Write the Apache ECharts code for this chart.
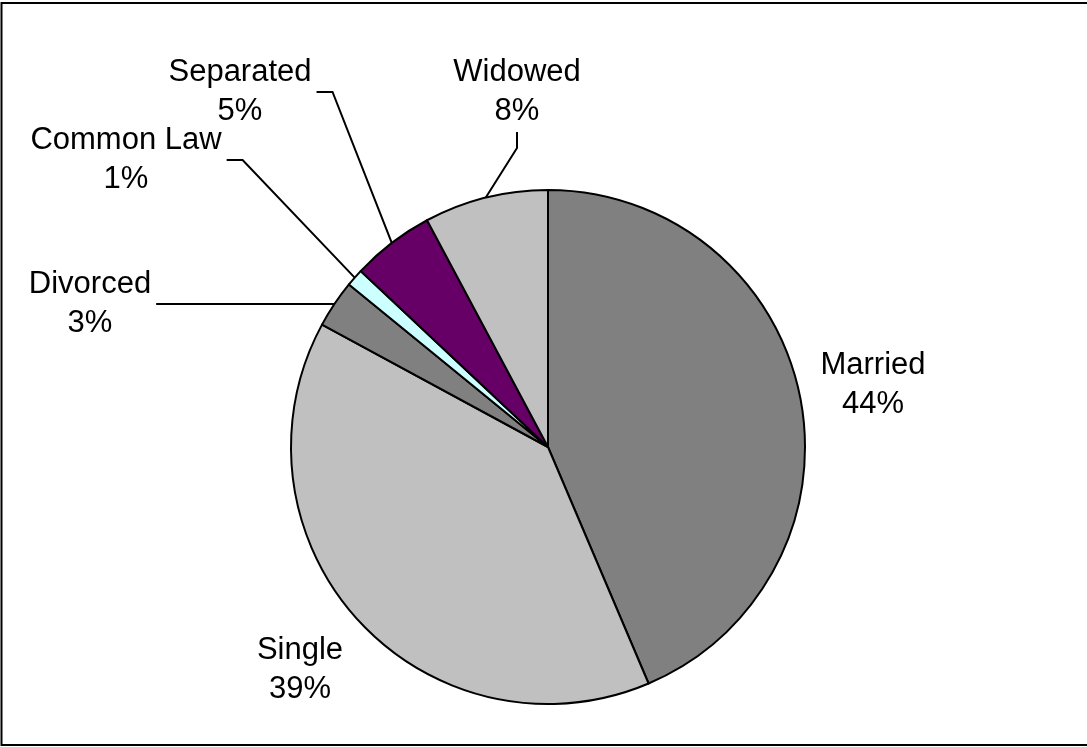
<!DOCTYPE html>
<html>
<head>
<meta charset="utf-8">
<script src="https://cdn.jsdelivr.net/npm/echarts@6/dist/echarts.min.js"></script>
<style>
  html, body { margin: 0; padding: 0; background: #fff; }
  #chart { width: 1087px; height: 747px; }
</style>
</head>
<body>
<div id="chart"></div>
<script>
// marital status shares (percent), clockwise from 12 o'clock
var categories = ['Married', 'Single', 'Divorced', 'Common Law', 'Separated', 'Widowed'];
var shares = [43.6, 39.3, 3.0, 1.1, 5.2, 7.8];
var sliceColors = ['#808080', '#c0c0c0', '#808080', '#ccffff', '#660066', '#c0c0c0'];
var showLeader = [false, false, true, true, true, true];

// label block centres (layout only)
var labelPos = [[873, 385], [300, 670], [90, 304], [126, 160], [240, 92], [517, 92]];

var dom = document.getElementById('chart');
var myChart = echarts.init(dom);

var pieData = categories.map(function (name, i) {
    return {
        name: name,
        value: shares[i],
        itemStyle: { color: sliceColors[i] },
        labelLine: { show: showLeader[i] }
    };
});

var option = {
    animation: false,
    backgroundColor: '#fff',
    graphic: [{
        type: 'rect',
        shape: { x: 1.5, y: 3, width: 1090, height: 742 },
        style: { fill: 'none', stroke: '#000', lineWidth: 2 },
        silent: true
    }],
    series: [{
        type: 'pie',
        center: [548, 447],
        radius: 257,
        startAngle: 90,
        clockwise: true,
        avoidLabelOverlap: false,
        silent: true,
        itemStyle: { borderColor: '#000', borderWidth: 2 },
        label: {
            show: true,
            position: 'outside',
            color: '#000',
            fontFamily: 'Liberation Sans, Arial, sans-serif',
            fontSize: 31,
            lineHeight: 39,
            padding: [1, 5],
            formatter: function (p) {
                return p.name + '\n' + Math.round(p.value) + '%';
            }
        },
        labelLine: {
            show: true,
            length: 20,
            length2: 16,
            smooth: false,
            lineStyle: { color: '#000', width: 2 }
        },
        labelLayout: function (params) {
            var p = labelPos[params.dataIndex];
            return { x: p[0], y: p[1], align: 'center', verticalAlign: 'middle' };
        },
        data: pieData
    }]
};

if (option && typeof option === 'object') {
    myChart.setOption(option, true);
}
</script>
</body>
</html>
